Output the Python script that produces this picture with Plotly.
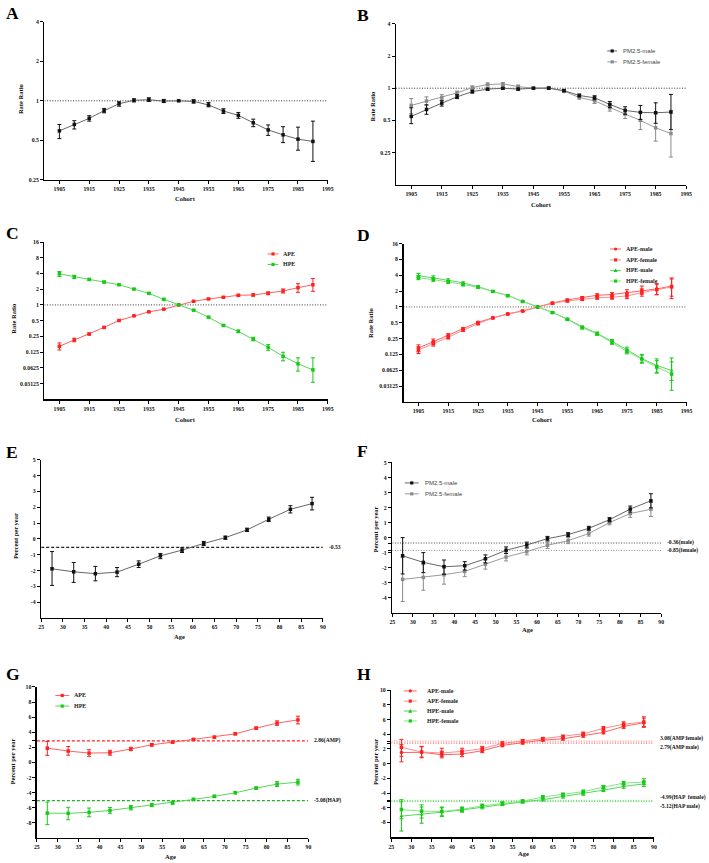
import plotly.graph_objects as go
import numpy as np

W, H = 709, 863
def fx(p): return p / W
def fy(p): return 1 - p / H

# ---------------- DATA ----------------
cohorts = [1905, 1910, 1915, 1920, 1925, 1930, 1935, 1940, 1945,
           1950, 1955, 1960, 1965, 1970, 1975, 1980, 1985, 1990]
ages = [27.5, 32.5, 37.5, 42.5, 47.5, 52.5, 57.5, 62.5, 67.5, 72.5, 77.5, 82.5, 87.5]
cohort_ticks = [1905, 1915, 1925, 1935, 1945, 1955, 1965, 1975, 1985, 1995]
age_ticks = [25, 30, 35, 40, 45, 50, 55, 60, 65, 70, 75, 80, 85, 90]

# A: PM2.5 cohort rate ratio
A_rr = [0.59, 0.66, 0.735, 0.84, 0.95, 1.01, 1.02, 0.995, 1.0, 0.99, 0.93, 0.835, 0.775, 0.68, 0.60, 0.55, 0.51, 0.49]
A_lo = [0.515, 0.61, 0.70, 0.81, 0.91, 0.98, 0.99, 0.97, 0.99, 0.96, 0.90, 0.80, 0.735, 0.635, 0.545, 0.48, 0.42, 0.345]
A_hi = [0.66, 0.705, 0.77, 0.875, 0.985, 1.035, 1.055, 1.025, 1.01, 1.02, 0.97, 0.87, 0.815, 0.725, 0.655, 0.635, 0.63, 0.70]

# B: PM2.5 by sex
B_male = [0.545, 0.633, 0.725, 0.83, 0.93, 0.98, 1.0, 0.98, 1.0, 1.0, 0.95, 0.855, 0.813, 0.705, 0.62, 0.594, 0.589, 0.598]
B_male_lo = [0.466, 0.57, 0.68, 0.80, 0.90, 0.96, 0.98, 0.96, 0.99, 0.98, 0.93, 0.83, 0.78, 0.66, 0.57, 0.51, 0.47, 0.41]
B_male_hi = [0.656, 0.70, 0.77, 0.87, 0.96, 1.0, 1.02, 1.0, 1.01, 1.02, 0.97, 0.88, 0.85, 0.75, 0.67, 0.69, 0.73, 0.875]
B_female = [0.69, 0.757, 0.819, 0.905, 1.014, 1.082, 1.097, 1.036, 1.0, 1.007, 0.938, 0.819, 0.762, 0.656, 0.573, 0.5, 0.426, 0.377]
B_female_lo = [0.577, 0.69, 0.77, 0.87, 0.98, 1.05, 1.06, 1.0, 0.99, 0.98, 0.91, 0.79, 0.72, 0.61, 0.52, 0.41, 0.32, 0.227]
B_female_hi = [0.80, 0.83, 0.87, 0.94, 1.05, 1.12, 1.13, 1.07, 1.01, 1.04, 0.97, 0.85, 0.80, 0.70, 0.63, 0.60, 0.58, 0.62]

# C: APE / HPE cohort
C_ape = [0.161, 0.213, 0.277, 0.371, 0.503, 0.618, 0.736, 0.827, 1.0, 1.174, 1.3, 1.4, 1.527, 1.55, 1.667, 1.846, 2.136, 2.435]
C_ape_lo = [0.137, 0.197, 0.265, 0.36, 0.49, 0.605, 0.725, 0.815, 0.99, 1.15, 1.27, 1.36, 1.47, 1.48, 1.57, 1.69, 1.74, 1.82]
C_ape_hi = [0.187, 0.23, 0.29, 0.385, 0.515, 0.63, 0.75, 0.84, 1.01, 1.2, 1.33, 1.44, 1.59, 1.63, 1.77, 2.02, 2.55, 3.21]
C_hpe = [3.94, 3.45, 3.08, 2.74, 2.43, 2.01, 1.667, 1.28, 1.0, 0.792, 0.583, 0.405, 0.311, 0.222, 0.154, 0.104, 0.0745, 0.057]
C_hpe_lo = [3.51, 3.2, 2.95, 2.65, 2.36, 1.96, 1.63, 1.25, 0.99, 0.775, 0.57, 0.395, 0.295, 0.205, 0.135, 0.085, 0.054, 0.033]
C_hpe_hi = [4.36, 3.7, 3.2, 2.85, 2.5, 2.06, 1.71, 1.31, 1.01, 0.81, 0.6, 0.415, 0.33, 0.24, 0.174, 0.124, 0.097, 0.097]

# D: APE / HPE cohort by sex
D_ape_male = [0.165, 0.222, 0.29, 0.387, 0.51, 0.62, 0.74, 0.84, 1.0, 1.19, 1.36, 1.5, 1.67, 1.72, 1.87, 2.07, 2.2, 2.5]
D_ape_male_lo = [0.14, 0.2, 0.27, 0.37, 0.49, 0.605, 0.725, 0.825, 0.99, 1.15, 1.3, 1.42, 1.56, 1.58, 1.66, 1.75, 1.71, 1.6]
D_ape_male_hi = [0.19, 0.245, 0.31, 0.405, 0.53, 0.635, 0.755, 0.855, 1.01, 1.23, 1.42, 1.58, 1.78, 1.87, 2.12, 2.5, 2.78, 3.56]
D_ape_female = [0.152, 0.2, 0.265, 0.36, 0.48, 0.615, 0.73, 0.835, 1.0, 1.17, 1.3, 1.4, 1.5, 1.53, 1.62, 1.87, 2.14, 2.4]
D_ape_female_lo = [0.13, 0.18, 0.245, 0.345, 0.46, 0.6, 0.715, 0.82, 0.99, 1.13, 1.24, 1.32, 1.4, 1.4, 1.44, 1.6, 1.71, 1.44]
D_ape_female_hi = [0.175, 0.22, 0.285, 0.375, 0.5, 0.63, 0.745, 0.85, 1.01, 1.21, 1.36, 1.48, 1.6, 1.67, 1.82, 2.2, 2.7, 3.4]
D_hpe_male = [3.94, 3.61, 3.21, 2.86, 2.43, 1.98, 1.64, 1.28, 1.0, 0.79, 0.59, 0.42, 0.316, 0.222, 0.154, 0.104, 0.077, 0.062]
D_hpe_male_lo = [3.6, 3.35, 3.02, 2.72, 2.33, 1.92, 1.6, 1.25, 0.99, 0.77, 0.57, 0.405, 0.3, 0.205, 0.138, 0.088, 0.057, 0.04]
D_hpe_male_hi = [4.35, 3.9, 3.42, 3.0, 2.53, 2.04, 1.68, 1.31, 1.01, 0.81, 0.61, 0.435, 0.333, 0.24, 0.172, 0.125, 0.103, 0.107]
D_hpe_female = [3.61, 3.31, 2.99, 2.66, 2.37, 1.97, 1.63, 1.27, 1.0, 0.78, 0.58, 0.40, 0.307, 0.21, 0.142, 0.102, 0.072, 0.053]
D_hpe_female_lo = [3.3, 3.07, 2.8, 2.52, 2.27, 1.91, 1.59, 1.24, 0.99, 0.76, 0.56, 0.385, 0.29, 0.195, 0.128, 0.085, 0.055, 0.026]
D_hpe_female_hi = [3.95, 3.58, 3.18, 2.8, 2.47, 2.03, 1.67, 1.3, 1.01, 0.8, 0.6, 0.415, 0.325, 0.226, 0.158, 0.122, 0.095, 0.09]

# E: PM2.5 local drift (percent per year)
E_pct = [-1.89, -2.08, -2.2, -2.1, -1.6, -1.07, -0.71, -0.29, 0.08, 0.57, 1.24, 1.87, 2.23]
E_lo = [-2.94, -2.75, -2.65, -2.39, -1.81, -1.25, -0.86, -0.42, -0.03, 0.47, 1.1, 1.64, 1.83]
E_hi = [-0.8, -1.49, -1.74, -1.81, -1.39, -0.92, -0.56, -0.16, 0.18, 0.68, 1.38, 2.1, 2.63]
E_net = -0.53

# F: by sex
F_male = [-1.21, -1.65, -1.94, -1.87, -1.41, -0.84, -0.49, -0.07, 0.2, 0.62, 1.19, 1.9, 2.45]
F_male_lo = [-2.42, -2.33, -2.44, -2.16, -1.68, -1.06, -0.68, -0.22, 0.07, 0.49, 1.05, 1.7, 1.98]
F_male_hi = [0.0, -1.0, -1.49, -1.6, -1.15, -0.62, -0.3, 0.08, 0.33, 0.75, 1.33, 2.1, 2.92]
F_female = [-2.78, -2.65, -2.47, -2.25, -1.77, -1.29, -0.93, -0.51, -0.2, 0.27, 1.0, 1.6, 1.89]
F_female_lo = [-4.25, -3.5, -3.1, -2.6, -2.1, -1.55, -1.15, -0.72, -0.4, 0.1, 0.85, 1.35, 1.4]
F_female_hi = [-1.3, -1.8, -1.85, -1.9, -1.45, -1.03, -0.7, -0.3, 0.0, 0.45, 1.15, 1.85, 2.35]
F_net_male, F_net_female = -0.36, -0.85

# G: APE / HPE
G_ape = [1.88, 1.5, 1.23, 1.28, 1.77, 2.33, 2.68, 3.04, 3.34, 3.78, 4.53, 5.2, 5.63]
G_ape_lo = [0.93, 0.95, 0.8, 0.95, 1.55, 2.15, 2.55, 2.9, 3.2, 3.65, 4.4, 4.9, 5.1]
G_ape_hi = [2.78, 2.1, 1.68, 1.6, 2.0, 2.5, 2.82, 3.18, 3.48, 3.92, 4.68, 5.5, 6.12]
G_hpe = [-6.72, -6.75, -6.62, -6.37, -6.0, -5.65, -5.35, -4.91, -4.51, -4.03, -3.41, -2.88, -2.62]
G_hpe_lo = [-8.25, -7.6, -7.2, -6.75, -6.3, -5.85, -5.55, -5.05, -4.65, -4.15, -3.55, -3.2, -2.99]
G_hpe_hi = [-5.26, -5.95, -6.05, -5.99, -5.7, -5.45, -5.15, -4.75, -4.35, -3.9, -3.27, -2.55, -2.24]
G_amp, G_hap = 2.86, -5.08

# H: APE / HPE by sex
H_ape_male = [1.52, 1.55, 1.22, 1.31, 1.76, 2.49, 2.85, 3.21, 3.39, 3.8, 4.25, 5.07, 5.57]
H_ape_male_lo = [0.25, 0.8, 0.8, 0.95, 1.5, 2.3, 2.65, 3.05, 3.2, 3.6, 4.05, 4.8, 4.94]
H_ape_male_hi = [2.6, 2.3, 1.7, 1.7, 2.05, 2.7, 3.05, 3.4, 3.6, 4.0, 4.45, 5.35, 6.2]
H_ape_female = [2.22, 1.59, 1.45, 1.68, 2.04, 2.76, 3.08, 3.39, 3.67, 4.07, 4.8, 5.38, 5.66]
H_ape_female_lo = [1.0, 0.9, 1.0, 1.3, 1.75, 2.55, 2.88, 3.2, 3.45, 3.85, 4.55, 5.1, 5.05]
H_ape_female_hi = [3.3, 2.36, 2.1, 2.1, 2.35, 2.97, 3.28, 3.58, 3.9, 4.3, 5.05, 5.7, 6.38]
H_hpe_male = [-7.14, -6.92, -6.6, -6.3, -5.9, -5.5, -5.2, -4.9, -4.5, -4.1, -3.6, -3.1, -2.75]
H_hpe_male_lo = [-9.17, -8.1, -7.2, -6.6, -6.15, -5.7, -5.38, -5.08, -4.68, -4.3, -3.8, -3.35, -3.1]
H_hpe_male_hi = [-5.2, -5.9, -6.0, -6.0, -5.65, -5.3, -5.02, -4.72, -4.32, -3.9, -3.4, -2.85, -2.4]
H_hpe_female = [-6.24, -6.46, -6.5, -6.2, -5.75, -5.4, -5.1, -4.55, -4.2, -3.8, -3.2, -2.65, -2.5]
H_hpe_female_lo = [-7.5, -7.4, -7.1, -6.5, -6.0, -5.6, -5.28, -4.75, -4.4, -4.0, -3.42, -2.9, -2.85]
H_hpe_female_hi = [-4.9, -5.6, -5.9, -5.9, -5.5, -5.2, -4.92, -4.35, -4.0, -3.6, -2.98, -2.4, -2.05]
H_amp_female, H_amp_male = 3.08, 2.79
H_hap_female, H_hap_male = -4.99, -5.12

# ---------------- STYLE ----------------
RED_M, RED_L, RED_L2 = "#ff2020", "#ff6060", "#ff8c8c"
GRN_M, GRN_L, GRN_L2 = "#16c916", "#55d855", "#80e680"
BLK_M, BLK_L = "#111111", "#666666"
GRY_M, GRY_L = "#8a8a8a", "#9a9a9a"
SERIF = "Liberation Serif"
SANS = "Liberation Sans"
MS = 3.5
FINE_DOT = "1px,1.6px"
SHORT_DASH = "3px,2px"

# axis boxes in pixels: (x_left, x_right, y_top, y_bottom)
boxes = {
    1: (42, 329, 19, 178),
    2: (398, 692, 21, 183),
    3: (42, 329, 240.7, 399),
    4: (405.7, 692.3, 242.3, 401.7),
    5: (38.7, 324, 460, 619.3),
    6: (394.3, 666.7, 462.7, 614),
    7: (34.3, 309.3, 688.7, 840.7),
    8: (393.3, 659.3, 692, 840),
}

fig = go.Figure()

def axname(n, a):
    return a if n == 1 else f"{a}{n}"

def add_series(n, x, y, lo, hi, lcol, mcol, symbol="square", size=MS):
    y = np.array(y, dtype=float)
    fig.add_trace(go.Scatter(
        x=x, y=y, mode="lines+markers",
        xaxis=axname(n, "x"), yaxis=axname(n, "y"),
        line=dict(color=lcol, width=1),
        marker=dict(symbol=symbol, size=size, color=mcol, line=dict(width=0)),
        error_y=dict(type="data", symmetric=False,
                     array=np.array(hi) - y, arrayminus=y - np.array(lo),
                     color=mcol, thickness=1, width=2),
        showlegend=False, cliponaxis=False, hoverinfo="skip"))

def add_ref(n, xr, val, col, dash, width=1):
    fig.add_trace(go.Scatter(
        x=xr, y=[val, val], mode="lines",
        xaxis=axname(n, "x"), yaxis=axname(n, "y"),
        line=dict(color=col, dash=dash, width=width),
        showlegend=False, hoverinfo="skip", cliponaxis=False))

# ----- traces -----
cx = [1900, 1995]
ax_ = [25, 90]
add_ref(1, cx, 1, "#333333", FINE_DOT)
add_series(1, cohorts, A_rr, A_lo, A_hi, BLK_L, BLK_M)

add_ref(2, cx, 1, "#333333", FINE_DOT)
add_series(2, cohorts, B_female, B_female_lo, B_female_hi, GRY_L, GRY_M)
add_series(2, cohorts, B_male, B_male_lo, B_male_hi, BLK_L, BLK_M)

add_ref(3, cx, 1, "#333333", FINE_DOT)
add_series(3, cohorts, C_ape, C_ape_lo, C_ape_hi, RED_L, RED_M)
add_series(3, cohorts, C_hpe, C_hpe_lo, C_hpe_hi, GRN_L, GRN_M)

add_ref(4, cx, 1, "#555555", FINE_DOT)
add_series(4, cohorts, D_ape_male, D_ape_male_lo, D_ape_male_hi, RED_L, RED_M, "circle")
add_series(4, cohorts, D_ape_female, D_ape_female_lo, D_ape_female_hi, RED_L2, RED_M, "square")
add_series(4, cohorts, D_hpe_male, D_hpe_male_lo, D_hpe_male_hi, GRN_L, GRN_M, "triangle-up")
add_series(4, cohorts, D_hpe_female, D_hpe_female_lo, D_hpe_female_hi, GRN_L2, GRN_M, "square")

add_ref(5, ax_, E_net, "#222222", SHORT_DASH, 1.3)
add_series(5, ages, E_pct, E_lo, E_hi, BLK_L, BLK_M)

add_ref(6, ax_, F_net_male, "#444444", FINE_DOT, 1)
add_ref(6, ax_, F_net_female, "#8a8a8a", FINE_DOT, 1)
add_series(6, ages, F_female, F_female_lo, F_female_hi, GRY_L, GRY_M)
add_series(6, ages, F_male, F_male_lo, F_male_hi, BLK_L, BLK_M)

add_ref(7, ax_, G_amp, RED_M, SHORT_DASH, 1.3)
add_ref(7, ax_, G_hap, "#22b022", SHORT_DASH, 1.3)
add_series(7, ages, G_ape, G_ape_lo, G_ape_hi, RED_L, RED_M)
add_series(7, ages, G_hpe, G_hpe_lo, G_hpe_hi, GRN_L, GRN_M)

add_ref(8, ax_, H_amp_female, RED_L2, FINE_DOT, 1.3)
add_ref(8, ax_, H_amp_male, RED_L, FINE_DOT, 1.3)
add_ref(8, ax_, H_hap_female, GRN_L2, FINE_DOT, 1.3)
add_ref(8, ax_, H_hap_male, GRN_L, FINE_DOT, 1.3)
add_series(8, ages, H_ape_male, H_ape_male_lo, H_ape_male_hi, RED_L, RED_M, "circle")
add_series(8, ages, H_ape_female, H_ape_female_lo, H_ape_female_hi, RED_L2, RED_M, "square")
add_series(8, ages, H_hpe_male, H_hpe_male_lo, H_hpe_male_hi, GRN_L, GRN_M, "triangle-up")
add_series(8, ages, H_hpe_female, H_hpe_female_lo, H_hpe_female_hi, GRN_L2, GRN_M, "square")

# ----- axes -----
tickfont = dict(family=SERIF, size=5.8, color="#111111", weight="bold")
common = dict(showline=True, linecolor="black", linewidth=1.4, ticks="outside",
              ticklen=3, tickwidth=1, tickcolor="black", showgrid=False,
              zeroline=False, tickfont=tickfont, fixedrange=True)
layout = {}
log_small = [0.25, 0.5, 1, 2, 4]
log_big = [0.03125, 0.0625, 0.125, 0.25, 0.5, 1, 2, 4, 8, 16]
yspecs = {
    1: dict(type="log", range=[np.log10(0.25), np.log10(4)], tickvals=log_small,
            ticktext=[str(v) for v in log_small]),
    2: dict(type="log", range=[np.log10(0.125), np.log10(4)], tickvals=log_small,
            ticktext=[str(v) for v in log_small]),
    3: dict(type="log", range=[np.log10(2 ** -6), np.log10(16)], tickvals=log_big,
            ticktext=[str(v) for v in log_big]),
    4: dict(type="log", range=[np.log10(2 ** -6), np.log10(16)], tickvals=log_big,
            ticktext=[str(v) for v in log_big]),
    5: dict(range=[-5, 5], tickvals=list(range(-4, 6)), ticktext=[str(v) for v in range(-4, 6)]),
    6: dict(range=[-5, 5], tickvals=list(range(-4, 6)) + [F_net_male, F_net_female],
            ticktext=[str(v) for v in range(-4, 6)] + ["", ""]),
    7: dict(range=[-10, 10], tickvals=list(range(-8, 11, 2)) + [G_amp, G_hap],
            ticktext=[str(v) for v in range(-8, 11, 2)] + ["", ""]),
    8: dict(range=[-10, 10], tickvals=list(range(-8, 11, 2)) + [H_amp_female, H_amp_male, H_hap_female, H_hap_male],
            ticktext=[str(v) for v in range(-8, 11, 2)] + ["", "", "", ""]),
}
for n, (x0, x1, yt, yb) in boxes.items():
    xk = "xaxis" if n == 1 else f"xaxis{n}"
    yk = "yaxis" if n == 1 else f"yaxis{n}"
    if n <= 4:
        xs = dict(range=[1900, 1995], tickvals=cohort_ticks, ticktext=[str(v) for v in cohort_ticks])
    else:
        xs = dict(range=[25, 90], tickvals=age_ticks, ticktext=[str(v) for v in age_ticks])
    layout[xk] = dict(domain=[fx(x0), fx(x1)], anchor=axname(n, "y"), **xs, **common)
    layout[yk] = dict(domain=[fy(yb), fy(yt)], anchor=axname(n, "x"), **yspecs[n], **common)

annotations = []
shapes = []

def text(x, y, s, size=6.5, family=SERIF, angle=0, xanchor="center", color="#111111", bold=False):
    annotations.append(dict(x=fx(x), y=fy(y), xref="paper", yref="paper", text=s,
                            showarrow=False, textangle=angle, xanchor=xanchor, yanchor="middle",
                            font=dict(family=family, size=size, color=color,
                                      weight="bold" if bold else "normal")))

# panel letters
for lab, (x, y) in {"A": (1, 10), "B": (357, 12), "C": (1, 232), "D": (357, 234),
                    "E": (1, 452), "F": (357, 451), "G": (1, 676), "H": (357, 676)}.items():
    text(x, y, lab, size=17.5, xanchor="left", color="black", bold=True)

# axis titles
for x, y in [(18, 97), (374, 104), (11, 318), (372, 322)]:
    text(x, y, "Rate Ratio", angle=-90, size=6.5, bold=True)
for x, y in [(12, 537), (377, 530), (10, 764), (377, 764)]:
    text(x, y, "Percent per year", angle=-90, size=6.5, bold=True)
for x, y in [(185, 197), (545, 203), (185, 419), (546, 419.5)]:
    text(x, y, "Cohort", size=6.5, bold=True)
for x, y in [(179, 638), (531, 631), (170, 859), (527, 856)]:
    text(x, y, "Age", size=6.5, bold=True)

# reference line labels
def reflab(n, val, s, yshift=0, color="#111111"):
    annotations.append(dict(x=1, y=val, xref=f"{axname(n, 'x')} domain", yref=axname(n, "y"),
                            text=s, showarrow=False, xanchor="left", yanchor="middle",
                            xshift=4, yshift=yshift,
                            font=dict(family=SERIF, size=5.6, color=color, weight="bold")))
reflab(5, E_net, f"{E_net:.2f}")
reflab(6, F_net_male, f"{F_net_male:.2f}(male)", 1)
reflab(6, F_net_female, f"{F_net_female:.2f}(female)", 0)
reflab(7, G_amp, f"{G_amp:.2f}(AMP)")
reflab(7, G_hap, f"{G_hap:.2f}(HAP)")
reflab(8, H_amp_female, f"{H_amp_female:.2f}(AMP female)", 3)
reflab(8, H_amp_male, f"{H_amp_male:.2f}(AMP male)", -4)
reflab(8, H_hap_female, f"{H_hap_female:.2f}(HAP  female)", 3)
reflab(8, H_hap_male, f"{H_hap_male:.2f}(HAP male)", -5)

# manual legends
def glyph(mx, y, symbol, col, s=1.6):
    if symbol == "square":
        shapes.append(dict(type="rect", xref="paper", yref="paper", x0=fx(mx - s), x1=fx(mx + s),
                           y0=fy(y + s), y1=fy(y - s), fillcolor=col, line=dict(width=0)))
    elif symbol == "circle":
        shapes.append(dict(type="circle", xref="paper", yref="paper", x0=fx(mx - s), x1=fx(mx + s),
                           y0=fy(y + s), y1=fy(y - s), fillcolor=col, line=dict(width=0)))
    else:
        p = f"M {fx(mx - 2)},{fy(y + 1.6)} L {fx(mx + 2)},{fy(y + 1.6)} L {fx(mx)},{fy(y - 2)} Z"
        shapes.append(dict(type="path", xref="paper", yref="paper", path=p,
                           fillcolor=col, line=dict(width=0)))

def legend(x0, x1, xt, entries, family, size=6, color="#222222"):
    for (label, lcol, mcol, sym, y) in entries:
        shapes.append(dict(type="line", xref="paper", yref="paper", x0=fx(x0), x1=fx(x1),
                           y0=fy(y), y1=fy(y), line=dict(color=lcol, width=1)))
        glyph((x0 + x1) / 2, y, sym, mcol)
        text(xt, y, label, size=size, family=family, xanchor="left", color=color,
             bold=(family == SERIF))

legend(612, 622, 626, [("PM2.5-male", BLK_L, BLK_M, "square", 48.3),
                       ("PM2.5-female", GRY_L, GRY_M, "square", 59.3)], SANS, 6, "#444444")
legend(268, 279, 282, [("APE", RED_L, RED_M, "square", 252.7),
                       ("HPE", GRN_L, GRN_M, "square", 263.3)], SERIF, 6)
legend(615, 626, 629, [("APE-male", RED_L, RED_M, "circle", 247.7),
                       ("APE-female", RED_L2, RED_M, "square", 258.7),
                       ("HPE-male", GRN_L, GRN_M, "triangle", 269.3),
                       ("HPE-female", GRN_L2, GRN_M, "square", 280)], SERIF, 6)
legend(407, 421, 425, [("PM2.5-male", BLK_L, BLK_M, "square", 483.3),
                       ("PM2.5-female", GRY_L, GRY_M, "square", 494.3)], SANS, 6, "#444444")
legend(53, 67, 70, [("APE", RED_L, RED_M, "square", 697.3),
                    ("HPE", GRN_L, GRN_M, "square", 708)], SERIF, 6)
legend(406, 419, 427, [("APE-male", RED_L, RED_M, "circle", 692.7),
                       ("APE-female", RED_L2, RED_M, "square", 703),
                       ("HPE-male", GRN_L, GRN_M, "triangle", 713),
                       ("HPE-female", GRN_L2, GRN_M, "square", 723)], SERIF, 6)

fig.update_layout(width=W, height=H, margin=dict(l=0, r=0, t=0, b=0),
                  paper_bgcolor="white", plot_bgcolor="white", showlegend=False,
                  annotations=annotations, shapes=shapes, **layout)
fig.write_html("out.html", config={"displayModeBar": False, "staticPlot": True},
               post_script="document.body.style.margin='0';document.body.style.overflow='hidden';")
